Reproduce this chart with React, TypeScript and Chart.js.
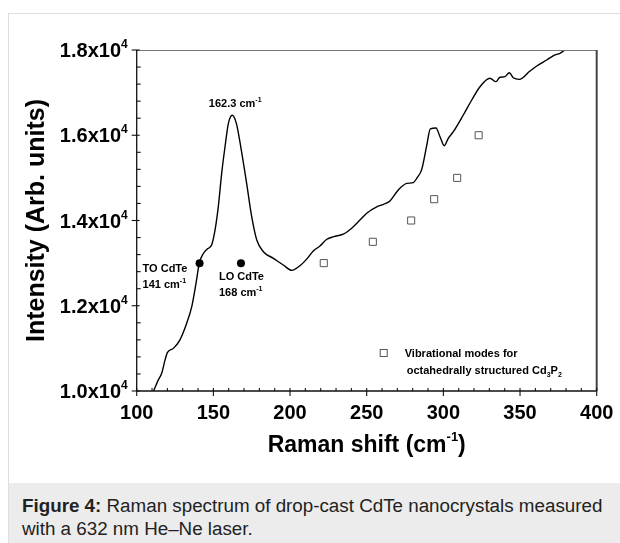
import React, { useEffect, useRef } from "react";
import { Chart, registerables } from "chart.js";
Chart.register(...registerables);

// Raman spectrum
const ramanShift = [
  111, 114.1, 116.3, 118.5, 120.0, 123.9, 128.2, 132.6, 135.9, 138.7,
  140.9, 143.4, 146.0, 148.9, 151.1, 153.2, 155.4, 157.6, 159.8, 162.3,
  165.0, 168.0, 171.7, 175.0, 178.3, 182.6, 189.1, 195.6, 201.1, 206.5,
  211.0, 215.0, 219.5, 224.0, 228.5, 234.7, 240.2, 245.6, 250.0, 256.5,
  261.0, 265.2, 270.6, 276.1, 280.4, 283.0, 285.9, 289.1, 291.5, 295.2,
  297.8, 300.6, 303.2, 306.5, 313.0, 318.5, 323.9, 330.4, 334.3, 336.9,
  340.2, 343.0, 345.6, 349.5, 356.5, 360.9, 367.4, 372.8, 376.0, 379.3,
  384.0,
];
const intensity = [
  10000, 10260, 10415, 10730, 10900, 11000, 11200, 11590, 11980, 12530,
  13010, 13220, 13330, 13430, 13780, 14320, 15100, 15730, 16280, 16470,
  16280, 15700, 14872, 14089, 13542, 13268, 13113, 12956, 12830, 12940,
  13100, 13280, 13400, 13560, 13620, 13680, 13820, 14010, 14170, 14320,
  14380, 14460, 14715, 14870, 14890, 15010, 15200, 15750, 16150, 16170,
  15966, 15755, 15928, 16083, 16475, 16827, 17139, 17336, 17257, 17360,
  17374, 17468, 17350, 17312, 17507, 17625, 17765, 17883, 17923, 18000,
  18120,
];

// Cd3P2 vibrational modes (open squares)
const modeShift = [222, 254, 279, 294, 309, 323];
const modeIntensity = [13000, 13500, 14000, 14500, 15000, 16000];

// CdTe TO / LO phonons (filled dots)
const phononShift = [141, 168];
const phononIntensity = [13000, 13000];
const phononNames = ["TO CdTe", "LO CdTe"];
const phononLabels = ["141 cm", "168 cm"];

const peakShift = 162.3;
const peakIntensity = 16470;
const peakLabel = "162.3 cm";

const xTickValues = [100, 150, 200, 250, 300, 350, 400];
const xMinorStep = 10;
const yTickValues = [10000, 12000, 14000, 16000, 18000];
const yTickLabels = ["1.0x10", "1.2x10", "1.4x10", "1.6x10", "1.8x10"];
const yTickExp = "4";
const yMinorStep = 400;

const xTitle = "Raman shift (cm";
const yTitle = "Intensity (Arb. units)";
const legendLine1 = "Vibrational modes for";
const legendLine2 = "octahedrally structured Cd";

const FONT = "'Liberation Sans', Arial, sans-serif";

type Part = { t: string; size: number; dy: number };

function drawParts(ctx: CanvasRenderingContext2D, parts: Part[], x: number, y: number, align: "left" | "center" | "right") {
  let total = 0;
  const widths = parts.map((p) => {
    ctx.font = `bold ${p.size}px ${FONT}`;
    const w = ctx.measureText(p.t).width;
    total += w;
    return w;
  });
  let cx = align === "left" ? x : align === "center" ? x - total / 2 : x - total;
  ctx.textAlign = "left";
  ctx.textBaseline = "alphabetic";
  parts.forEach((p, i) => {
    ctx.font = `bold ${p.size}px ${FONT}`;
    ctx.fillText(p.t, cx, y + p.dy);
    cx += widths[i];
  });
}

const framePlugin = {
  id: "frame",
  afterDatasetsDraw(chart: any) {
    const { ctx, chartArea: a, scales } = chart;
    const xs = scales.x;
    const ys = scales.y;
    ctx.save();
    ctx.fillStyle = "#000";
    ctx.lineCap = "butt";
    const line = (x1: number, y1: number, x2: number, y2: number) => {
      ctx.beginPath();
      ctx.moveTo(x1, y1);
      ctx.lineTo(x2, y2);
      ctx.stroke();
    };
    // box
    ctx.strokeStyle = "#777";
    ctx.lineWidth = 1;
    line(a.left, a.top + 0.5, a.right, a.top + 0.5);
    ctx.strokeStyle = "#444";
    ctx.lineWidth = 2;
    line(a.right, a.top, a.right, a.bottom);
    ctx.strokeStyle = "#111";
    ctx.lineWidth = 1.3;
    line(a.left, a.top, a.left, a.bottom);
    line(a.left, a.bottom, a.right, a.bottom);

    // x ticks
    ctx.lineWidth = 1.1;
    for (let v = xs.min; v <= xs.max + 1e-6; v += xMinorStep) {
      const px = xs.getPixelForValue(v);
      if (xTickValues.includes(v)) line(px, a.bottom + 5, px, a.bottom - 3);
      else line(px, a.bottom, px, a.bottom - 3);
    }
    // y ticks
    for (let v = ys.min; v <= ys.max + 1e-6; v += yMinorStep) {
      const py = ys.getPixelForValue(v);
      if (yTickValues.includes(v)) line(a.left - 5, py, a.left + 3, py);
      else line(a.left, py, a.left + 4, py);
    }

    // x tick labels
    ctx.fillStyle = "#000";
    xTickValues.forEach((v) => {
      drawParts(ctx, [{ t: String(v), size: 20, dy: 0 }], xs.getPixelForValue(v), a.bottom + 28, "center");
    });
    // y tick labels
    yTickValues.forEach((v, i) => {
      const py = ys.getPixelForValue(v);
      drawParts(
        ctx,
        [
          { t: yTickLabels[i], size: 20, dy: 0 },
          { t: yTickExp, size: 12, dy: -9 },
        ],
        a.left - 9,
        py + 7,
        "right"
      );
    });

    // axis titles
    const cxMid = (a.left + a.right) / 2;
    drawParts(
      ctx,
      [
        { t: xTitle, size: 23, dy: 0 },
        { t: "-1", size: 13, dy: -11 },
        { t: ")", size: 23, dy: 0 },
      ],
      cxMid,
      a.bottom + 61,
      "center"
    );
    ctx.save();
    ctx.translate(35, (a.top + a.bottom) / 2);
    ctx.rotate(-Math.PI / 2);
    drawParts(ctx, [{ t: yTitle, size: 25, dy: 0 }], 0, 0, "center");
    ctx.restore();

    // peak label
    const pkx = xs.getPixelForValue(peakShift);
    const pky = ys.getPixelForValue(peakIntensity);
    drawParts(
      ctx,
      [
        { t: peakLabel, size: 11, dy: 0 },
        { t: "-1", size: 7, dy: -5 },
      ],
      pkx + 3,
      pky - 8,
      "center"
    );

    // phonon labels
    const offs = [
      { dx: -57, dy1: 9, dy2: 25 },
      { dx: -22, dy1: 17, dy2: 33 },
    ];
    phononShift.forEach((s, i) => {
      const px = xs.getPixelForValue(s);
      const py = ys.getPixelForValue(phononIntensity[i]);
      const o = offs[i];
      drawParts(ctx, [{ t: phononNames[i], size: 11, dy: 0 }], px + o.dx, py + o.dy1, "left");
      drawParts(
        ctx,
        [
          { t: phononLabels[i], size: 11, dy: 0 },
          { t: "-1", size: 7, dy: -5 },
        ],
        px + o.dx,
        py + o.dy2,
        "left"
      );
    });

    // legend
    const lx = a.right - 213;
    const ly = a.bottom - 38;
    ctx.strokeStyle = "#555";
    ctx.lineWidth = 1;
    ctx.fillStyle = "#fff";
    ctx.fillRect(lx - 3.5, ly - 3.5, 7, 7);
    ctx.strokeRect(lx - 3.5, ly - 3.5, 7, 7);
    ctx.fillStyle = "#000";
    drawParts(ctx, [{ t: legendLine1, size: 11, dy: 0 }], lx + 21, ly + 4, "left");
    drawParts(
      ctx,
      [
        { t: legendLine2, size: 11, dy: 0 },
        { t: "3", size: 7, dy: 3 },
        { t: "P", size: 11, dy: 0 },
        { t: "2", size: 7, dy: 3 },
      ],
      lx + 23,
      ly + 21,
      "left"
    );
    ctx.restore();
  },
};

function SpectrumChart() {
  const ref = useRef<HTMLCanvasElement | null>(null);
  useEffect(() => {
    if (!ref.current) return;
    const chart = new Chart(ref.current, {
      type: "scatter",
      data: {
        datasets: [
          {
            label: "spectrum",
            data: ramanShift.map((x, i) => ({ x, y: intensity[i] })),
            showLine: true,
            borderColor: "#000",
            borderWidth: 1.4,
            pointRadius: 0,
            cubicInterpolationMode: "monotone",
            fill: false,
            order: 3,
          } as any,
          {
            label: "Cd3P2 modes",
            data: modeShift.map((x, i) => ({ x, y: modeIntensity[i] })),
            pointStyle: "rect",
            pointRadius: 5,
            backgroundColor: "#fff",
            borderColor: "#555",
            borderWidth: 1,
            showLine: false,
            order: 2,
          },
          {
            label: "CdTe phonons",
            data: phononShift.map((x, i) => ({ x, y: phononIntensity[i] })),
            pointStyle: "circle",
            pointRadius: 4,
            backgroundColor: "#000",
            borderColor: "#000",
            borderWidth: 0,
            showLine: false,
            order: 1,
          },
        ],
      },
      options: {
        animation: false,
        responsive: false,
        maintainAspectRatio: false,
        devicePixelRatio: 1,
        layout: { padding: { left: 127.7, right: 23.3, top: 36, bottom: 92 } },
        plugins: { legend: { display: false }, tooltip: { enabled: false } },
        scales: {
          x: { type: "linear", min: 100, max: 400, display: false },
          y: { type: "linear", min: 10000, max: 18000, display: false },
        },
      },
      plugins: [framePlugin],
    });
    return () => chart.destroy();
  }, []);
  return <canvas ref={ref} width={611} height={469} style={{ position: "absolute", left: 0, top: 0, display: "block" }} />;
}

export default function App() {
  return (
    <div
      style={{
        position: "absolute",
        left: 8,
        top: 13,
        width: 612,
        height: 530,
        boxSizing: "border-box",
        borderTop: "1px solid #dedede",
        borderLeft: "1px solid #dedede",
        background: "#fff",
        overflow: "hidden",
      }}
    >
      <SpectrumChart />
      <div
        style={{
          position: "absolute",
          left: 0,
          right: 0,
          top: 469,
          bottom: 0,
          background: "#ececec",
          fontFamily: FONT,
          fontSize: 18.8,
          lineHeight: "23px",
          color: "#222",
          padding: "11px 0 0 13px",
          boxSizing: "border-box",
          whiteSpace: "nowrap",
        }}
      >
        <b>Figure 4:</b> Raman spectrum of drop-cast CdTe nanocrystals measured
        <br />
        with a 632 nm He–Ne laser.
      </div>
    </div>
  );
}
